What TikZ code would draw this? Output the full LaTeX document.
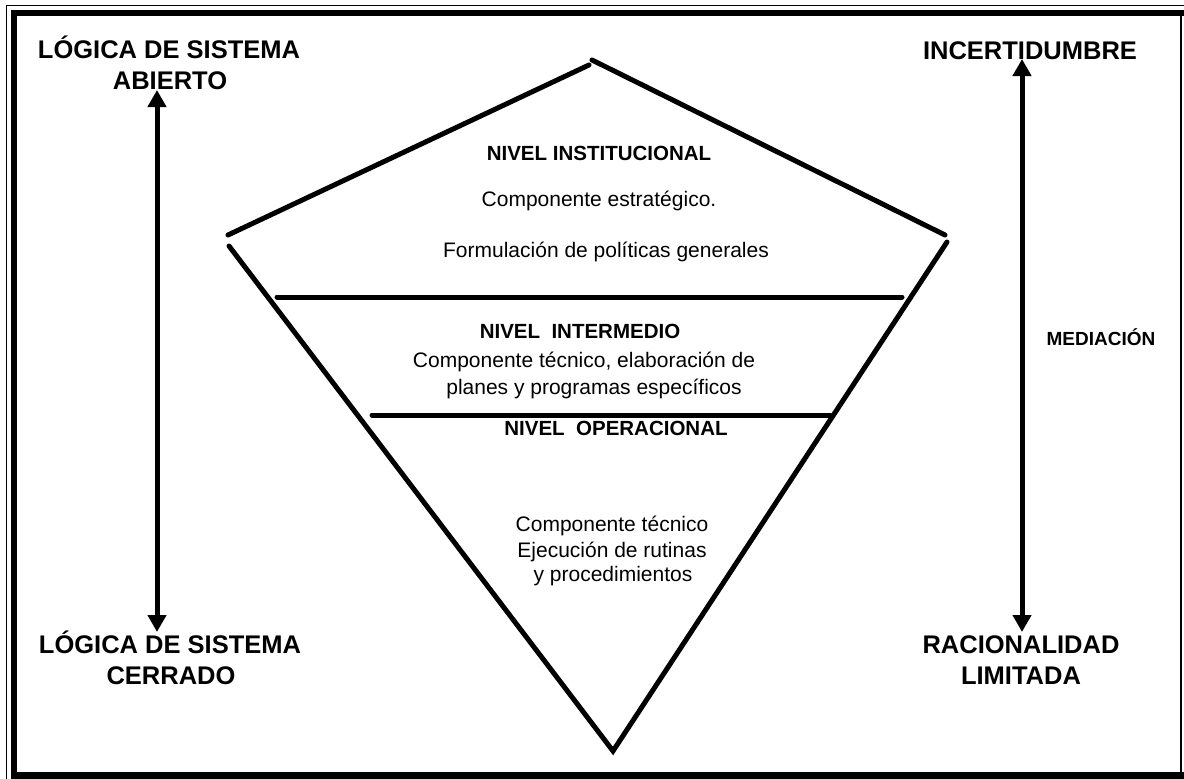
\documentclass[tikz,border=0pt]{standalone}
\usepackage{fontspec}
\setmainfont{Liberation Sans}
\usetikzlibrary{arrows.meta}
\begin{document}
\begin{tikzpicture}[x=1pt,y=-1pt,
  big/.style={font=\fontsize{25.5}{30}\selectfont\bfseries,inner sep=0pt,anchor=base},
  lvl/.style={font=\fontsize{20.5}{25}\selectfont\bfseries,inner sep=0pt,anchor=base},
  txt/.style={font=\fontsize{21}{25}\selectfont,inner sep=0pt,anchor=base},
  edge/.style={line width=5pt,line cap=round},
  vec/.style={line width=5pt,{Triangle[width=18pt,length=17pt]}-{Triangle[width=18pt,length=17pt]}}]
\useasboundingbox (0,0) rectangle (1184,779);
\fill[white] (0,0) rectangle (1184,779);
% frame
\draw[line width=1.5pt] (6.5,779) -- (6.5,5.5) -- (1184,5.5);
\draw[line width=6pt] (14,779) -- (14,12.5) -- (1184,12.5);
\draw[line width=1.5pt] (1181,16) -- (1181,772);
\draw[line width=7pt] (17,775.5) -- (1184,775.5);
% pyramid
\coordinate (rl) at (228,235);
\coordinate (ra) at (589,65);
\coordinate (rb) at (592,60);
\coordinate (rr) at (945,235);
\coordinate (vl) at (229,246);
\coordinate (vr) at (947,242);
\coordinate (vb) at (613,751);
\draw[edge] (rl) -- (ra);
\draw[edge] (rb) -- (rr);
\draw[edge] (vl) -- (vb) -- (vr);
\draw[edge] (277,297) -- (902,297);
\draw[edge] (372,415) -- (830,415);
% levels
\node[lvl] (n1) at (599,160) {NIVEL INSTITUCIONAL};
\node[txt] (n1a) at (599,206) {Componente estratégico.};
\node[txt] (n1b) at (606,257) {Formulación de políticas generales};
\node[lvl] (n2) at (580,338) {NIVEL\ \ INTERMEDIO};
\node[txt] (n2a) at (584,367) {Componente técnico, elaboración de};
\node[txt] (n2b) at (594,394) {planes y programas específicos};
\node[lvl] (n3) at (616,435) {NIVEL\ \ OPERACIONAL};
\node[txt] (n3a) at (612,531) {Componente técnico};
\node[txt] (n3b) at (612,557) {Ejecución de rutinas};
\node[txt] (n3c) at (613,581) {y procedimientos};
% left side
\node[big] (la) at (169,58) {LÓGICA DE SISTEMA};
\node[big] (lb) at (170,89) {ABIERTO};
\node[big] (lc) at (170,653) {LÓGICA DE SISTEMA};
\node[big] (ld) at (171,684) {CERRADO};
\coordinate (lt) at (157,90);
\coordinate (lbt) at (157,632);
\draw[vec] (lt) -- (lbt);
% right side
\node[big] (ra1) at (1030,59) {INCERTIDUMBRE};
\node[big] (rc) at (1021,653) {RACIONALIDAD};
\node[big] (rd) at (1021,684) {LIMITADA};
\node[lvl,font=\fontsize{19}{23}\selectfont\bfseries] (med) at (1101,345) {MEDIACIÓN};
\coordinate (rt) at (1022,59);
\coordinate (rbt) at (1022,632);
\draw[vec] (rt) -- (rbt);
\end{tikzpicture}
\end{document}
